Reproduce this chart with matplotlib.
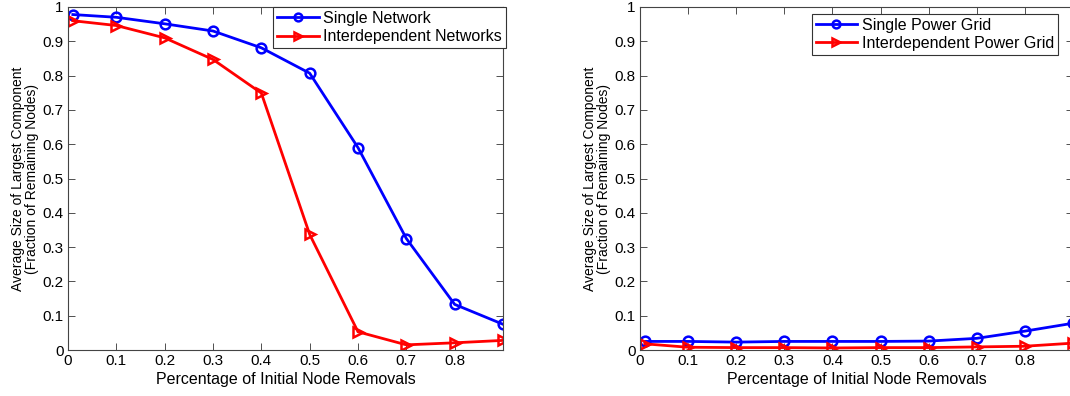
import numpy as np
import matplotlib.pyplot as plt

plt.rcParams['font.family'] = ['Liberation Sans', 'DejaVu Sans']

# removal fractions
x = [0.01, 0.1, 0.2, 0.3, 0.4, 0.5, 0.6, 0.7, 0.8, 0.9]

# left panel
single_net = [0.978, 0.970, 0.951, 0.930, 0.881, 0.807, 0.590, 0.325, 0.133, 0.075]
interdep_net = [0.960, 0.946, 0.910, 0.847, 0.749, 0.337, 0.053, 0.015, 0.021, 0.028]

# right panel
single_grid = [0.025, 0.025, 0.023, 0.025, 0.025, 0.025, 0.026, 0.034, 0.055, 0.078]
interdep_grid = [0.018, 0.008, 0.007, 0.007, 0.006, 0.007, 0.007, 0.009, 0.011, 0.020]

xticks = [0, 0.1, 0.2, 0.3, 0.4, 0.5, 0.6, 0.7, 0.8]
xticklabels = ['0', '0.1', '0.2', '0.3', '0.4', '0.5', '0.6', '0.7', '0.8']
yticks = [0, 0.1, 0.2, 0.3, 0.4, 0.5, 0.6, 0.7, 0.8, 0.9, 1]
yticklabels = ['0', '0.1', '0.2', '0.3', '0.4', '0.5', '0.6', '0.7', '0.8', '0.9', '1']

W, H = 1070, 396
fig = plt.figure(figsize=(W / 100, H / 100), dpi=100)


def make_ax(left, right, top, bottom):
    return fig.add_axes([left / W, 1 - bottom / H, (right - left) / W, (bottom - top) / H])


def style(ax, y1, y2, lab1, lab2, legend_kw):
    ax.plot(x, y1, '-o', color='#0000ff', lw=2, ms=7, mfc='none', mew=1.8, label=lab1)
    ax.plot(x, y2, '->', color='#ff0000', lw=2, ms=7, mfc='none', mew=1.8, label=lab2)
    ax.set_xlim(0, 0.9)
    ax.set_ylim(0, 1)
    ax.set_xticks(xticks)
    ax.set_xticklabels(xticklabels)
    ax.set_yticks(yticks)
    ax.set_yticklabels(yticklabels)
    ax.tick_params(direction='in', top=True, right=True, labelsize=11, length=5,
                   width=0.6, color='#333333', pad=3)
    for s in ax.spines.values():
        s.set_linewidth(0.8)
        s.set_color('#444444')
    ax.set_xlabel('Percentage of Initial Node Removals', fontsize=11.5, labelpad=3)
    ax.set_ylabel('Average Size of Largest Component\n(Fraction of Remaining Nodes)',
                  fontsize=10, linespacing=0.95, labelpad=3)
    leg = ax.legend(fontsize=11.5, fancybox=False, framealpha=1, edgecolor='#333333',
                    handlelength=2.6, handletextpad=0.3, borderpad=0.25,
                    labelspacing=0.2, markerscale=0.8, **legend_kw)
    leg.get_frame().set_linewidth(0.8)


ax1 = make_ax(68, 503, 7, 350)
style(ax1, single_net, interdep_net, 'Single Network', 'Interdependent Networks',
      dict(loc='upper right', bbox_to_anchor=(1.007, 1.0), borderaxespad=0))

ax2 = make_ax(640, 1073, 7, 350)
style(ax2, single_grid, interdep_grid, 'Single Power Grid', 'Interdependent Power Grid',
      dict(loc='upper right', bbox_to_anchor=(0.966, 0.98), borderaxespad=0))

fig.savefig('out.png', dpi=100)
